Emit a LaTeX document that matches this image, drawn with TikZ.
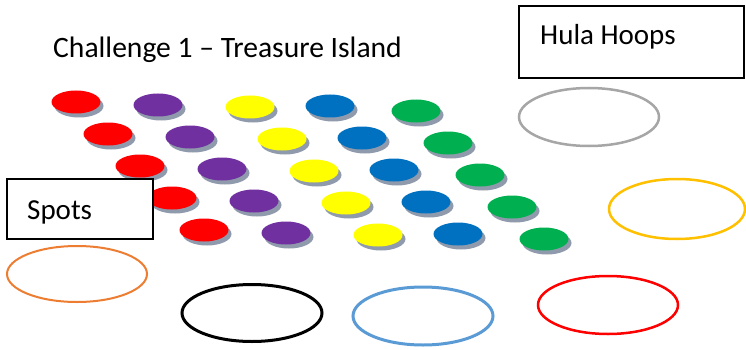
\documentclass[tikz,border=0pt]{standalone}
\usepackage{fontspec}
\setmainfont{Carlito}
\definecolor{spotred}{RGB}{255,0,0}
\definecolor{spotpurple}{RGB}{112,48,160}
\definecolor{spotyellow}{RGB}{255,255,0}
\definecolor{spotblue}{RGB}{0,112,192}
\definecolor{spotgreen}{RGB}{0,176,80}
\definecolor{spotshadow}{RGB}{143,154,172}
\definecolor{hoopgray}{RGB}{166,166,166}
\definecolor{hoopgold}{RGB}{255,192,0}
\definecolor{hooporange}{RGB}{237,125,49}
\definecolor{hoopblue}{RGB}{91,155,213}
\begin{document}
\begin{tikzpicture}[x=1pt,y=-1pt,
  lbl/.style={anchor=base west,inner sep=0pt,font=\fontsize{29}{34}\selectfont},
  labelbox/.style={draw=black,line width=1.1pt,fill=white},
  hoop/.style={line width=2.5pt}]
\useasboundingbox (0,0) rectangle (746,350);
\fill[white] (0,0) rectangle (746,350);
% spots
\foreach \c/\x/\y in {spotred/76/102, spotpurple/158/105, spotyellow/250/107, spotblue/330/106, spotgreen/416/111}{
  \foreach \r in {0,...,4}{
    \fill[spotshadow] (\x+32*\r+3, \y+32*\r+4) ellipse [x radius=24.5pt, y radius=11.5pt];
    \fill[\c] (\x+32*\r, \y+32*\r) ellipse [x radius=24.5pt, y radius=11.5pt];
  }}
% boxes
\draw[labelbox] (7,179) rectangle (153,239);
\draw[labelbox] (519,6) rectangle (744,78);
% texts
\node[lbl,font=\fontsize{29.6}{34}\selectfont] (title) at (53,58) {Challenge 1 – Treasure Island};
\node[lbl] (spotslabel) at (27,219) {Spots};
\node[lbl] (hulalabel) at (540,45) {Hula Hoops};
% hoops
\draw[hoop,hoopgray] (589,117) ellipse [x radius=70pt, y radius=29pt];
\draw[hoop,hoopgold] (677,209) ellipse [x radius=68pt, y radius=30pt];
\draw[hoop,hooporange,line width=2pt] (77,274) ellipse [x radius=70pt, y radius=28pt];
\draw[hoop,black,line width=3pt] (252,313) ellipse [x radius=70pt, y radius=28.5pt];
\draw[hoop,hoopblue,line width=3pt] (423,316) ellipse [x radius=70pt, y radius=29pt];
\draw[hoop,spotred] (608,305) ellipse [x radius=70pt, y radius=29pt];
\end{tikzpicture}
\end{document}
